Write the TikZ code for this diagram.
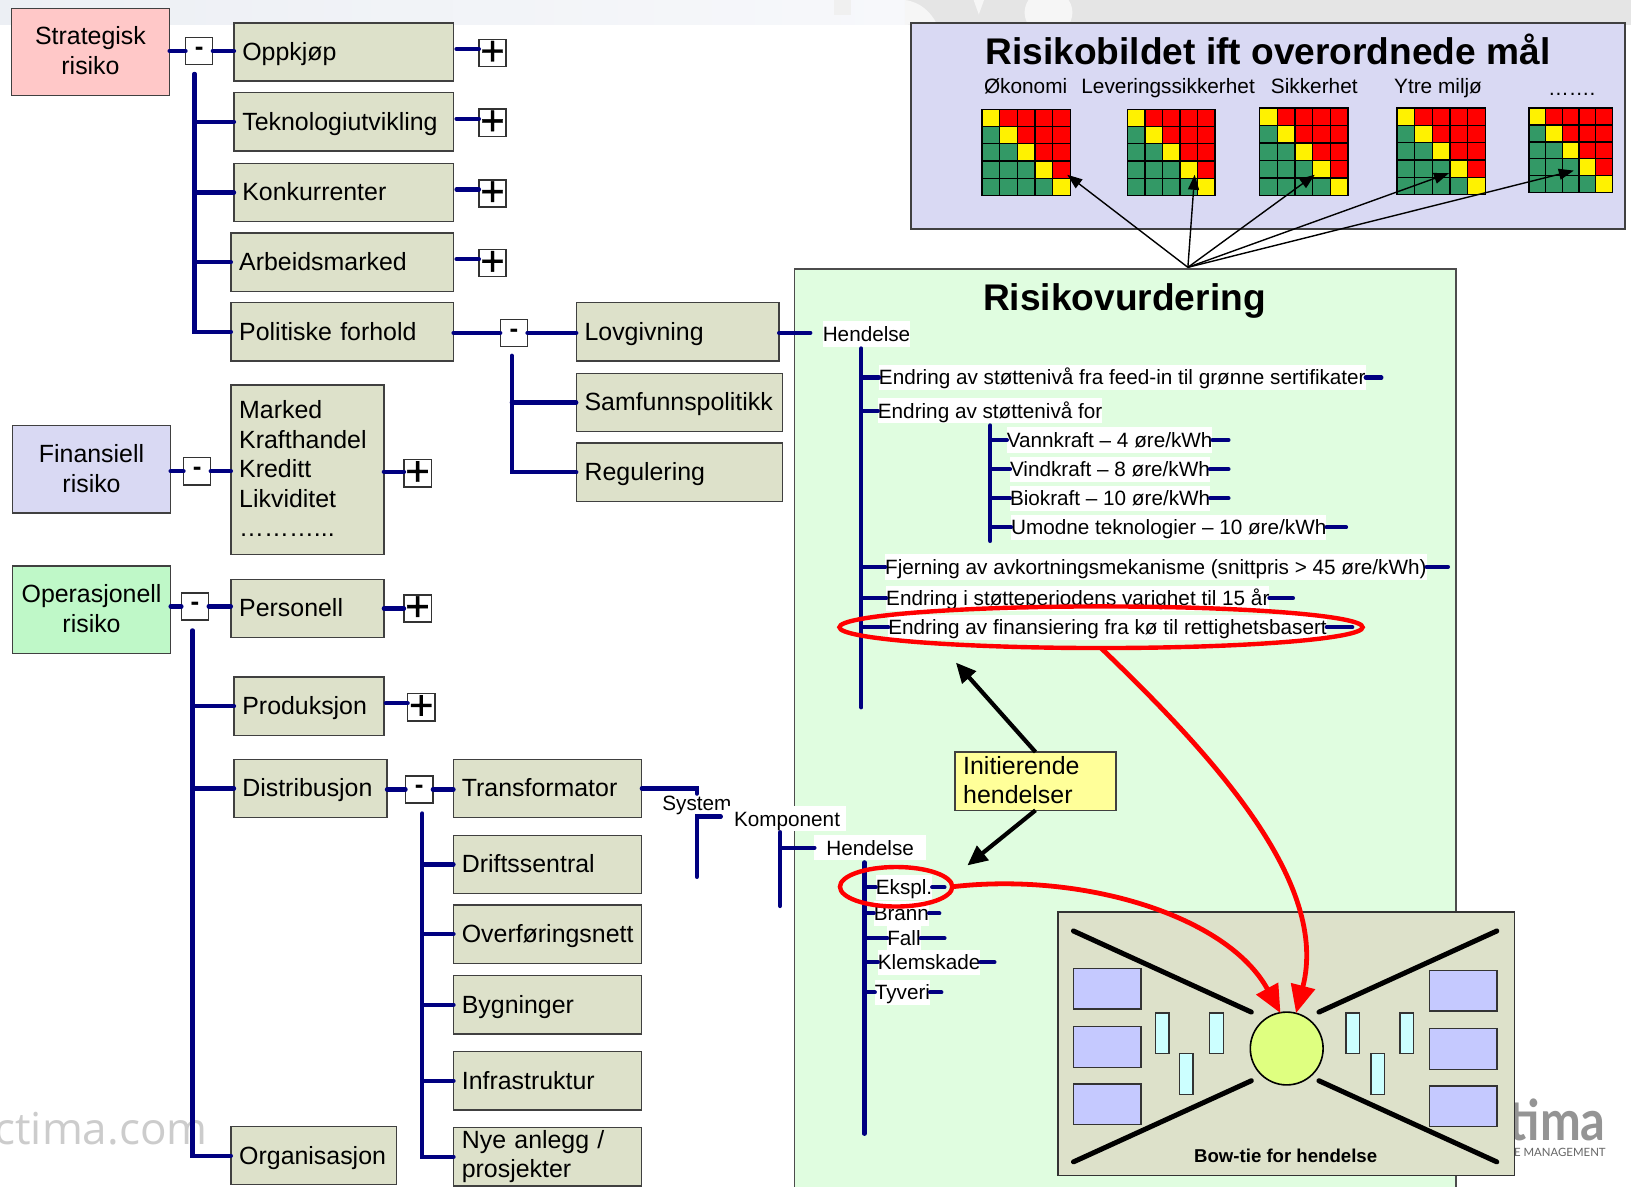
\documentclass[tikz,border=0pt]{standalone}
\usepackage{graphicx}
\usepackage{fontspec}
\setmainfont{Liberation Sans}
\newfontfamily\wmfont{Open Sans}
\newfontfamily\logofont{Lato}
\usetikzlibrary{arrows.meta,shapes.geometric}
\definecolor{navyl}{HTML}{000080}
\definecolor{boxg}{HTML}{DDE1CA}
\definecolor{lav}{HTML}{D9D9F3}
\definecolor{pinkb}{HTML}{FFC8C8}
\definecolor{mintb}{HTML}{BFF8C8}
\definecolor{panelg}{HTML}{E0FDE0}
\definecolor{yelb}{HTML}{FFFF99}
\definecolor{mgreen}{HTML}{339966}
\definecolor{blueb}{HTML}{C5C9FF}
\definecolor{cyanb}{HTML}{CCFFFF}
\definecolor{circy}{HTML}{DFFF80}
\definecolor{bandl}{HTML}{ECEFF4}
\definecolor{bandm}{HTML}{F7F8FB}
\definecolor{bandg}{HTML}{E5E5E5}
\definecolor{bandw}{HTML}{F6F6F6}
\tikzset{
  base/.style={draw=black!75,line width=0.7pt,inner xsep=4.16pt,inner ysep=0pt,outer sep=0pt,text=black,font=\fontsize{12.45}{14.8}\selectfont},
  gbox/.style={base,fill=boxg,align=left,text height=10.4pt,text depth=2pt},
  mbox/.style={base,fill=boxg,align=left},
  rbox/.style={base,fill=pinkb,align=center},
  lbox/.style={base,fill=lav,align=center},
  obox/.style={base,fill=mintb,align=center},
  ybox/.style={base,fill=yelb,align=left},
  nav/.style={draw=navyl,line width=2.1pt,line cap=round},
  sq/.style={draw=black!80,fill=white,line width=0.7pt,minimum size=13.6pt,inner sep=0pt,outer sep=0pt},
  rowt/.style={fill=white,inner xsep=0pt,inner ysep=0.4pt,outer sep=0pt,text height=9.6pt,text depth=2.2pt,anchor=west,font=\fontsize{10.35}{12}\selectfont},
  lab/.style={inner sep=0pt,text height=9.4pt,text depth=2pt,font=\fontsize{10.4}{12}\selectfont},
  thinarr/.style={draw=black,line width=0.7pt,-{Triangle[length=7.5pt,width=5.5pt]}},
  thickarr/.style={draw=black,line width=2.1pt,-{Triangle[length=10pt,width=9pt]}},
  redarr/.style={draw=red,line width=2.4pt,-{Triangle[length=14pt,width=12pt]}},
  redell/.style={draw=red,line width=2.2pt,ellipse,inner sep=0pt,outer sep=0pt},
  tie/.style={draw=black,line width=2.5pt,line cap=round},
  brect/.style={draw=black!80,fill=blueb,line width=0.7pt},
  crect/.style={draw=black!80,fill=cyanb,line width=0.7pt},
}
\newcommand{\upt}[1]{\par\vspace*{#1}}
\newcommand{\bx}[7]{\node[#1,minimum width={(#5-#3)*0.52pt},minimum height={(#6-#4)*0.52pt},text width={(#5-#3-16)*0.52pt}] (#2) at ({(#3+#5)/2},{(#4+#6)/2}) {#7};}
\newcommand{\mns}[3]{\node[sq,font=\bfseries\fontsize{13}{13}\selectfont] (#1) at (#2,#3) {\raisebox{-1.3pt}{-}};}
\newcommand{\pls}[3]{\node[sq,font=\fontsize{21}{21}\selectfont\addfontfeature{FakeBold=0.8}] (#1) at (#2,#3) {\raisebox{-1pt}{+}};}
\newcommand{\rw}[6]{\node[rowt] (#1) at (#3,#4) {#6};\coordinate (#1-l) at (#2,#4);\coordinate (#1-t) at (#5,#4);\draw[nav] (#1-l) -- (#1.west);\draw[nav] (#1.east) -- (#1-t);}
\newcommand{\rwn}[5]{\node[rowt] (#1) at (#3,#4) {#5};\coordinate (#1-l) at (#2,#4);\draw[nav] (#1-l) -- (#1.west);}
\newcommand{\riskmat}[4]{\foreach \i in {0,...,4}{\foreach \j in {0,...,4}{%
  \ifnum\i=\j\def\cellc{yellow}\else\ifnum\i>\j\def\cellc{red}\else\def\cellc{mgreen}\fi\fi
  \filldraw[fill=\cellc,draw=black,line width=0.7pt] ({#1+\i*#3/5},{#2+\j*#4/5}) rectangle ({#1+(\i+1)*#3/5},{#2+(\j+1)*#4/5});}}}
\begin{document}
\begin{tikzpicture}[x=0.52pt,y=-0.52pt]
\useasboundingbox (0,0) rectangle (1568,1141);
\clip (0,0) rectangle (1568,1141);
\fill[white] (0,0) rectangle (1568,1141);
% top band
\shade[left color=bandl,right color=bandm] (0,0) rectangle (870,24);
\fill[bandg] (870,0) rectangle (1568,24);
\fill[black!6] (802,0) rectangle (818,14);
\fill[bandw] (870,0) .. controls (885,2) and (895,12) .. (900,22) -- (870,24) -- cycle;
\fill[bandw] (1008,12) ellipse (23 and 22);
\fill[bandw] (936,0) -- (946,0) -- (941,14) -- cycle;
% watermarks
\node[anchor=east,inner sep=0pt,text=black!20,font=\wmfont\fontsize{22}{23}\selectfont] (wm1) at (200,1085) {actima.com};
\node[anchor=base east,inner sep=0pt,text=black!42,font=\logofont\bfseries\fontsize{28}{30}\selectfont] (wm2) at (1544,1096) {\scalebox{.87}[1]{tima}};
\node[anchor=east,inner sep=0pt,text=black!60,font=\logofont\fontsize{5.7}{7}\selectfont] (wm3) at (1544,1108) {E MANAGEMENT};
% panels
\node[draw=black!75,fill=lav,line width=0.8pt,minimum width={686*0.52pt},minimum height={198*0.52pt},inner sep=0pt] (pbild) at (1219,121) {};
\node[draw=black!70,fill=panelg,line width=0.8pt,minimum width={636*0.52pt},minimum height={900*0.52pt},inner sep=0pt,anchor=north west] (pvurd) at (763,258) {};
\node[inner sep=0pt,font=\bfseries\fontsize{18.55}{20}\selectfont] (tbild) at (1219,47.5) {Risikobildet ift overordnede mål};
\node[inner sep=0pt,font=\bfseries\fontsize{18.55}{20}\selectfont] (tvurd) at (1081,289) {Risikovurdering};
\node[lab] (l1) at (986,83) {Økonomi};
\node[lab] (l2) at (1123,83) {Leveringssikkerhet};
\node[lab] (l3) at (1263.5,83) {Sikkerhet};
\node[lab] (l4) at (1382.5,83) {Ytre miljø};
\node[lab] (l5) at (1511,85) {…….};
\riskmat{944}{105}{85}{83}
\riskmat{1084}{105}{84}{83}
\riskmat{1211}{104}{85}{84}
\riskmat{1343}{104}{85}{83}
\riskmat{1470}{104}{80}{81}
\coordinate (src) at (1142,257);
\coordinate (a1) at (1026,168);
\coordinate (a2) at (1148.5,168);
\coordinate (a3) at (1264,168);
\coordinate (a4) at (1393,166.5);
\coordinate (a5) at (1513,164);
\foreach \t in {a1,a2,a3,a4,a5}{\draw[thinarr] (src) -- (\t);}
% left tree boxes
\bx{rbox}{strat}{11}{8}{163}{92}{Strategisk\\risiko\upt{1.6pt}}
\bx{lbox}{fin}{12}{409}{164}{493}{Finansiell\\risiko\upt{0.8pt}}
\bx{obox}{oper}{12}{544}{164}{628}{Operasjonell\\risiko\upt{1pt}}
\bx{gbox}{opp}{225}{22}{436}{78}{Oppkjøp}
\bx{gbox}{tek}{225}{89}{436}{145}{Teknologiutvikling}
\bx{gbox}{kon}{225}{157}{436}{213}{Konkurrenter}
\bx{gbox}{arb}{222}{224}{436}{280}{Arbeidsmarked}
\bx{gbox}{pol}{222}{291}{436}{347}{Politiske forhold}
\bx{gbox}{lov}{554}{291}{749}{347}{Lovgivning}
\bx{gbox}{sam}{554}{359}{752}{415}{Samfunnspolitikk}
\bx{gbox}{reg}{554}{426}{752}{482}{Regulering}
\bx{mbox}{mark}{222}{370}{369}{533}{Marked\\Krafthandel\\Kreditt\\Likviditet\\………...\upt{1pt}}
\bx{gbox}{per}{222}{557}{369}{613}{Personell}
\bx{gbox}{prod}{225}{651}{369}{707}{Produksjon}
\bx{gbox}{dist}{225}{730}{372}{786}{Distribusjon}
\bx{gbox}{org}{222}{1083}{381}{1139}{Organisasjon}
\bx{gbox}{tra}{436}{730}{617}{786}{Transformator}
\bx{gbox}{dri}{436}{803}{617}{859}{Driftssentral}
\bx{gbox}{ove}{436}{870}{617}{926}{Overføringsnett}
\bx{gbox}{byg}{436}{938}{617}{994}{Bygninger}
\bx{gbox}{inf}{436}{1011}{617}{1067}{Infrastruktur}
\bx{mbox}{nye}{436}{1084}{617}{1140}{Nye anlegg /\\prosjekter}
\mns{m1}{191.5}{49}
\mns{m2}{189.5}{453}
\mns{m3}{187.5}{583}
\mns{m4}{494}{320}
\mns{m5}{403}{759}
\pls{p1}{473.5}{51}
\pls{p2}{473.5}{118}
\pls{p3}{473.5}{186}
\pls{p4}{473.5}{253}
\pls{p5}{401.5}{455}
\pls{p6}{401.5}{585}
\pls{p7}{405}{680}
% connectors
\draw[nav] (m1.west -| strat.east) -- (m1.west);
\draw[nav] (m1.east) -- (m1.east -| opp.west);
\coordinate (t1) at (187,71);
\draw[nav] (t1) |- (pol.west);
\foreach \b in {tek,kon,arb}{\draw[nav] (t1 |- \b.west) -- (\b.west);}
\foreach \a/\b in {opp/p1,tek/p2,kon/p3,arb/p4}{\draw[nav] ([xshift=1.5pt,yshift=1.5pt]\a.east) -- ([yshift=1.5pt]\a.east -| \b.west);}
\draw[nav] (m2.west -| fin.east) -- (m2.west);
\draw[nav] (m2.east) -- (mark.west |- m2.east);
\draw[nav] ([yshift=-1pt]mark.east) -- ([yshift=-1pt]mark.east -| p5.west);
\draw[nav] (m3.west -| oper.east) -- (m3.west);
\draw[nav] (m3.east) -- (m3.east -| per.west);
\draw[nav] (per.east) -- (p6.west);
\draw[nav] ([xshift=1pt,yshift=1.5pt]prod.east) -- ([yshift=1.5pt]prod.east -| p7.west);
\coordinate (t2) at (185,606);
\draw[nav] (t2) |- (org.west);
\foreach \b in {prod,dist}{\draw[nav] (t2 |- \b.west) -- (\b.west);}
\draw[nav] (m4.west -| pol.east) -- (m4.west);
\draw[nav] (m4.east) -- (m4.east -| lov.west);
\coordinate (t3) at (492,342);
\draw[nav] (t3) |- (reg.west);
\draw[nav] (t3 |- sam.west) -- (sam.west);
\draw[nav] (m5.west -| dist.east) -- (m5.west);
\draw[nav] (m5.east) -- (m5.east -| tra.west);
\coordinate (t4) at (406,782);
\draw[nav] (t4) |- (nye.west);
\foreach \b in {dri,ove,byg,inf}{\draw[nav] (t4 |- \b.west) -- (\b.west);}
% hendelse / system labels
\node[rowt] (hen1) at (791,321) {Hendelse};
\draw[nav] (m4.east -| lov.east) -- (779,320) coordinate (hen1-l);
\coordinate (tr1) at (828,335);
\coordinate (tr1b) at (828,680);
\draw[nav] (tr1) -- (tr1b);
\rw{r1}{828}{845}{363}{1328}{Endring av støttenivå fra feed-in til grønne sertifikater}
\rwn{r2}{828}{844}{395}{Endring av støttenivå for}
\coordinate (tr2) at (952,409);
\coordinate (tr2b) at (952,520);
\draw[nav] (tr2) -- (tr2b);
\rw{s1}{952}{968}{423}{1181}{Vannkraft – 4 øre/kWh}
\rw{s2}{952}{971}{451}{1181}{Vindkraft – 8 øre/kWh}
\rw{s3}{952}{971}{479}{1181}{Biokraft – 10 øre/kWh}
\rw{s4}{952}{972}{507}{1294}{Umodne teknologier – 10 øre/kWh}
\rw{r3}{828}{851}{545}{1392}{Fjerning av avkortningsmekanisme (snittpris > 45 øre/kWh)}
\rw{r4}{828}{852}{575}{1243}{Endring i støtteperiodens varighet til 15 år}
\rw{r5}{828}{854}{603}{1300}{Endring av finansiering fra kø til rettighetsbasert}
% system tree
\node[inner sep=0pt,font=\fontsize{10.35}{12}\selectfont] (sys) at (670,774) {System};
\node[rowt,inner xsep=3pt] (kom) at (700,787) {Komponent};
\node[rowt,inner xsep=6pt] (hen2) at (783,815) {Hendelse};
\coordinate (u1) at (670,758);
\coordinate (u1b) at (670,763);
\draw[nav] (tra.east |- u1) -- (u1) -- (u1b);
\coordinate (u2) at (670,843);
\coordinate (u2b) at (693,785);
\draw[nav] (u2) |- (u2b);
\coordinate (u3) at (750,800);
\coordinate (u3b) at (750,871);
\draw[nav] (u3) -- (u3b);
\draw[nav] (u3 |- hen2.west) -- (hen2.west);
\coordinate (tr3) at (831,829);
\coordinate (tr3b) at (831,1090);
\draw[nav] (tr3) -- (tr3b);
\rw{e1}{831}{842}{853}{908}{Ekspl.}
\rw{e2}{831}{840}{878}{903}{Brann}
\rw{e3}{831}{853}{902}{908}{Fall}
\rw{e4}{831}{844}{925}{956}{Klemskade}
\rw{e5}{831}{841}{954}{905}{Tyveri}
% ellipses
\node[redell,minimum width={503*0.52pt},minimum height={40*0.52pt}] (ell1) at (1058.5,603) {};
\node[redell,minimum width={108*0.52pt},minimum height={38*0.52pt}] (ell2) at (861.5,852.5) {};
% Initierende
\bx{ybox}{init}{918}{723}{1073}{779}{Initierende\\hendelser\upt{1pt}}
\coordinate (i1) at (919,637);
\coordinate (i2) at (930,832);
\draw[thickarr] (init.north) -- (i1);
\draw[thickarr] (init.south) -- (i2);
% Bow-tie
\node[draw=black!80,fill=boxg,line width=0.8pt,minimum width={439*0.52pt},minimum height={253*0.52pt},inner sep=0pt] (bow) at (1236.5,1003.5) {};
\node[inner sep=0pt,font=\bfseries\fontsize{9.3}{11}\selectfont] (bowt) at (1236,1111) {Bow-tie for hendelse};
\node[draw=black,fill=circy,line width=0.8pt,circle,minimum size={70*0.52pt},inner sep=0pt] (circ) at (1237,1008) {};
\coordinate (b1) at (1032,895); \coordinate (b1e) at (1203,973);
\coordinate (b2) at (1439,895); \coordinate (b2e) at (1268,973);
\coordinate (b3) at (1032,1117); \coordinate (b3e) at (1203,1039);
\coordinate (b4) at (1439,1117); \coordinate (b4e) at (1268,1039);
\draw[tie] (b1) -- (b1e);
\draw[tie] (b2) -- (b2e);
\draw[tie] (b3) -- (b3e);
\draw[tie] (b4) -- (b4e);
\draw[brect] (1032,931) rectangle (1097,970);
\draw[brect] (1032,987) rectangle (1097,1026);
\draw[brect] (1032,1042) rectangle (1097,1081);
\draw[brect] (1374,933) rectangle (1439,972);
\draw[brect] (1374,989) rectangle (1439,1028);
\draw[brect] (1374,1044) rectangle (1439,1083);
\draw[crect] (1111,974) rectangle (1124,1013);
\draw[crect] (1163,974) rectangle (1176,1013);
\draw[crect] (1134,1013) rectangle (1147,1052);
\draw[crect] (1294,974) rectangle (1307,1013);
\draw[crect] (1346,974) rectangle (1359,1013);
\draw[crect] (1318,1013) rectangle (1331,1052);
% red arrows
\coordinate (rt1) at (1231,974);
\coordinate (rt2) at (1246,974);
\draw[redarr] (ell2.east) .. controls (1040,838) and (1180,880) .. (rt1);
\draw[redarr] (ell1.south) .. controls (1170,730) and (1278,850) .. (rt2);
\end{tikzpicture}
\end{document}
